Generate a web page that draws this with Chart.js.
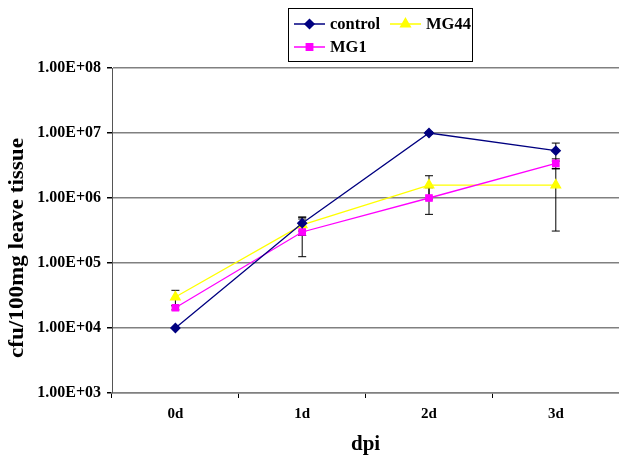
<!DOCTYPE html>
<html lang="en">
<head>
<meta charset="UTF-8">
<title>cfu per 100mg leave tissue</title>
<script src="https://cdn.jsdelivr.net/npm/chart.js"></script>
<style>
  html, body { margin: 0; padding: 0; background: #fff; overflow: hidden; width: 619px; height: 461px; }
  #wrap { position: relative; width: 626px; height: 461px; }
</style>
</head>
<body>
<div id="wrap"><canvas id="chart" width="626" height="461"></canvas></div>
<script>
// data
const days = ['0d', '1d', '2d', '3d'];
const yTicks = [1e3, 1e4, 1e5, 1e6, 1e7, 1e8];

const control    = [1.0e4, 4.1e5, 1.0e7, 5.35e6];
const controlErr = [0, 1.0e5, 4.0e5, 1.65e6];
const mg1        = [2.05e4, 3.0e5, 1.0e6, 3.4e6];
const mg1Err     = [1.5e3, 1.75e5, 4.4e5, 6.0e5];
const mg44       = [3.0e4, 3.85e5, 1.58e6, 1.58e6];
const mg44Err    = [8.0e3, 1.2e5, 6.2e5, 1.27e6];

const yTitle = 'cfu/100mg leave tissue';
const serif = '"Liberation Serif", "Times New Roman", serif';

function sci(v) {
  const e = Math.round(Math.log10(v));
  return '1.00E+' + String(e).padStart(2, '0');
}

// black error bars with caps
const errorBars = {
  id: 'errorBars',
  beforeDatasetsDraw(chart) {
    const ctx = chart.ctx;
    const y = chart.scales.y;
    ctx.save();
    ctx.strokeStyle = '#000';
    ctx.lineWidth = 1;
    chart.data.datasets.forEach((ds, i) => {
      const meta = chart.getDatasetMeta(i);
      meta.data.forEach((pt, j) => {
        const e = ds.err[j];
        if (!e) return;
        const v = ds.data[j];
        const top = y.getPixelForValue(v + e);
        const bot = y.getPixelForValue(Math.max(v - e, 1e3));
        ctx.beginPath();
        ctx.moveTo(pt.x, top); ctx.lineTo(pt.x, bot);
        ctx.moveTo(pt.x - 4, top); ctx.lineTo(pt.x + 4, top);
        ctx.moveTo(pt.x - 4, bot); ctx.lineTo(pt.x + 4, bot);
        ctx.stroke();
      });
    });
    ctx.restore();
  }
};

// boxed legend, two columns like the original, plus the y title
const boxLegend = {
  id: 'boxLegend',
  afterDraw(chart) {
    const ctx = chart.ctx;
    const spots = [[294, 24], [294, 47], [390, 24]];
    ctx.save();
    ctx.strokeStyle = '#000';
    ctx.lineWidth = 1;
    ctx.strokeRect(288.5, 8.5, 184, 53);
    ctx.font = 'bold 16.5px ' + serif;
    ctx.textBaseline = 'middle';
    chart.data.datasets.forEach((ds, i) => {
      const [x, yy] = spots[i];
      ctx.strokeStyle = ds.borderColor;
      ctx.fillStyle = ds.borderColor;
      ctx.lineWidth = 1.5;
      ctx.beginPath(); ctx.moveTo(x, yy); ctx.lineTo(x + 31, yy); ctx.stroke();
      Chart.helpers.drawPoint(ctx, { pointStyle: ds.pointStyle, radius: ds.pointStyle === 'triangle' ? 5.5 : 4.5, borderWidth: 1 }, x + 15.5, yy);
      ctx.fillStyle = '#000';
      ctx.fillText(ds.label, x + 36, yy + 1);
    });

    // rotated y title, stretched to the length it has in the original
    ctx.font = 'bold 20px ' + serif;
    ctx.textAlign = 'center';
    ctx.translate(18, 248);
    ctx.rotate(-Math.PI / 2);
    const w = ctx.measureText(yTitle).width;
    ctx.scale(220 / w, 1);
    ctx.fillText(yTitle, 0, 0);
    ctx.restore();
  }
};

function series(label, data, err, color, style) {
  return {
    label, data, err,
    borderColor: color,
    backgroundColor: color,
    pointBackgroundColor: color,
    pointBorderColor: color,
    pointStyle: style,
    pointRadius: style === 'triangle' ? 5.5 : 4.5,
    borderWidth: 1.3,
    tension: 0
  };
}

new Chart(document.getElementById('chart'), {
  type: 'line',
  data: {
    labels: days,
    datasets: [
      series('control', control, controlErr, '#000080', 'rectRot'),
      series('MG1', mg1, mg1Err, '#FF00FF', 'rect'),
      series('MG44', mg44, mg44Err, '#FFFF00', 'triangle')
    ]
  },
  options: {
    responsive: false,
    animation: false,
    layout: { padding: { top: 68, left: 0, right: 0, bottom: 0 } },
    plugins: { legend: { display: false }, tooltip: { enabled: false } },
    scales: {
      x: {
        offset: true,
        grid: { display: true, drawOnChartArea: false, offset: true, tickLength: 5, color: '#000' },
        border: { color: '#808080', width: 1.5 },
        ticks: { color: '#000', font: { family: serif, weight: 'bold', size: 15 }, padding: 7 },
        title: { display: true, text: 'dpi', color: '#000', font: { family: serif, weight: 'bold', size: 21 }, padding: { top: 7 } },
        afterFit(s) { s.height = 68; }
      },
      y: {
        type: 'logarithmic',
        min: 1e3,
        max: 1e8,
        afterBuildTicks(s) { s.ticks = yTicks.map(v => ({ value: v })); },
        grid: { color: '#808080', lineWidth: 1.5, tickLength: 5, tickColor: '#000' },
        border: { color: '#555', width: 1 },
        ticks: { color: '#000', font: { family: serif, weight: 'bold', size: 16 }, padding: 6, callback: v => sci(v) },
        afterFit(s) { s.width = 112; }
      }
    }
  },
  plugins: [errorBars, boxLegend]
});
</script>
</body>
</html>
